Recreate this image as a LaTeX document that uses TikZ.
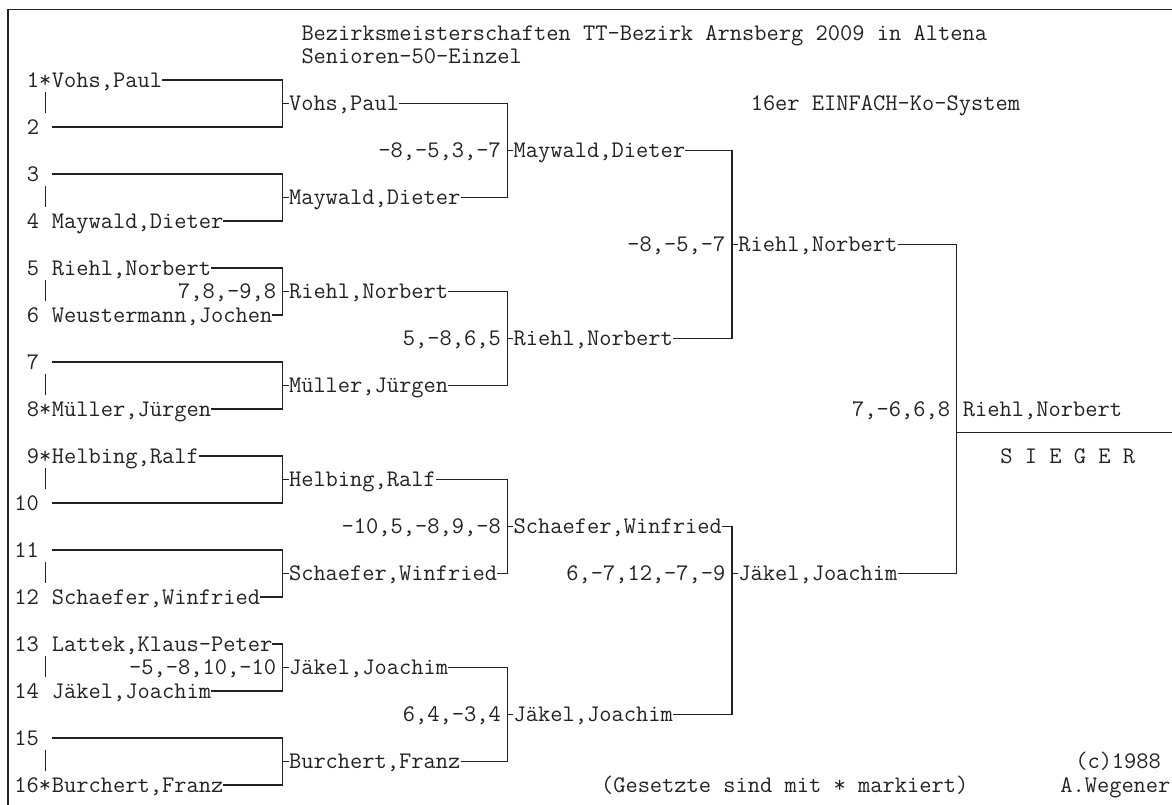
\documentclass[tikz,border=0pt]{standalone}
\usepackage{fontspec}
\definecolor{ink}{HTML}{222222}
\begin{document}
\begin{tikzpicture}[x=12.48pt,y=-23.5pt,
  txt/.style={inner sep=0pt, text height=14.4pt, text depth=0pt, text=ink,
              font=\ttfamily\fontsize{23.77pt}{23.5pt}\selectfont},
  nm/.style={txt, anchor=west},
  sc/.style={txt, anchor=east},
  ln/.style={draw=ink, line width=1.3pt},
  pipe/.style={draw=ink, line width=1pt}]
\useasboundingbox (-1.6426,-3.4043) rectangle (92.2676,30.8511);
% frame
\coordinate (tl) at (-1,-3);
\coordinate (tr) at (92.2676,-3);
\coordinate (bl) at (-1,30.8511);
\draw[ln] (tr) -- (tl) -- (bl);
% titles
\node[nm] (t1) at (22.5,-2) {Bezirksmeisterschaften TT-Bezirk Arnsberg 2009 in Altena};
\node[nm] (t2) at (22.5,-1) {Senioren-50-Einzel};
\node[nm] (t3) at (58.5,1) {16er EINFACH-Ko-System};
\node[nm] (t4) at (84.5,29) {(c)1988};
\node[nm] (t5) at (46.5,30) {(Gesetzte sind mit * markiert)};
\node[nm] (t6) at (83.3,30) {A.Wegener};
% round 1
\node[nm] (s1) at (0.5,0) {1*};   \node[nm] (p1) at (2.5,0) {Vohs,Paul};
\node[nm] (s2) at (0.5,2) {2};    \coordinate (p2) at (2.5,2);
\node[nm] (s3) at (0.5,4) {3};    \coordinate (p3) at (2.5,4);
\node[nm] (s4) at (0.5,6) {4};    \node[nm] (p4) at (2.5,6) {Maywald,Dieter};
\node[nm] (s5) at (0.5,8) {5};    \node[nm] (p5) at (2.5,8) {Riehl,Norbert};
\node[nm] (s6) at (0.5,10) {6};   \node[nm] (p6) at (2.5,10) {Weustermann,Jochen};
\node[nm] (s7) at (0.5,12) {7};   \coordinate (p7) at (2.5,12);
\node[nm] (s8) at (0.5,14) {8*};  \node[nm] (p8) at (2.5,14) {Müller,Jürgen};
\node[nm] (s9) at (0.5,16) {9*};  \node[nm] (p9) at (2.5,16) {Helbing,Ralf};
\node[nm] (s10) at (-0.5,18) {10}; \coordinate (p10) at (2.5,18);
\node[nm] (s11) at (-0.5,20) {11}; \coordinate (p11) at (2.5,20);
\node[nm] (s12) at (-0.5,22) {12}; \node[nm] (p12) at (2.5,22) {Schaefer,Winfried};
\node[nm] (s13) at (-0.5,24) {13}; \node[nm] (p13) at (2.5,24) {Lattek,Klaus-Peter};
\node[nm] (s14) at (-0.5,26) {14}; \node[nm] (p14) at (2.5,26) {Jäkel,Joachim};
\node[nm] (s15) at (-0.5,28) {15}; \coordinate (p15) at (2.5,28);
\node[nm] (s16) at (-0.5,30) {16*}; \node[nm] (p16) at (2.5,30) {Burchert,Franz};
\foreach \r in {1,5,...,29} \draw[pipe] (2,\r-0.49) -- (2,\r+0.4);
% round 2
\foreach \k/\r in {1/1,2/5,3/9,4/13,5/17,6/21,7/25,8/29} \coordinate (j\k) at (21,\r);
\node[nm] (w1) at (21.5,1)  {Vohs,Paul};
\node[nm] (w2) at (21.5,5)  {Maywald,Dieter};
\node[nm] (w3) at (21.5,9)  {Riehl,Norbert};
\node[nm] (w4) at (21.5,13) {Müller,Jürgen};
\node[nm] (w5) at (21.5,17) {Helbing,Ralf};
\node[nm] (w6) at (21.5,21) {Schaefer,Winfried};
\node[nm] (w7) at (21.5,25) {Jäkel,Joachim};
\node[nm] (w8) at (21.5,29) {Burchert,Franz};
\node[sc] (r3) at (20.5,9)  {7,8,-9,8};
\node[sc] (r7) at (20.5,25) {-5,-8,10,-10};
\draw[ln] (p1.east) -| (j1) |- (p2);
\draw[ln] (p3) -| (j2) |- (p4.east);
\draw[ln] (p5.east) -| (j3) |- (p6.east);
\draw[ln] (p7) -| (j4) |- (p8.east);
\draw[ln] (p9.east) -| (j5) |- (p10);
\draw[ln] (p11) -| (j6) |- (p12.east);
\draw[ln] (p13.east) -| (j7) |- (p14.east);
\draw[ln] (p15) -| (j8) |- (p16.east);
\foreach \k in {1,...,8} \draw[ln] (j\k) -- (w\k.west);
% round 3
\foreach \k/\r in {1/3,2/11,3/19,4/27} \coordinate (k\k) at (39,\r);
\node[nm] (v1) at (39.5,3)  {Maywald,Dieter};
\node[nm] (v2) at (39.5,11) {Riehl,Norbert};
\node[nm] (v3) at (39.5,19) {Schaefer,Winfried};
\node[nm] (v4) at (39.5,27) {Jäkel,Joachim};
\node[sc] (q1) at (38.5,3)  {-8,-5,3,-7};
\node[sc] (q2) at (38.5,11) {5,-8,6,5};
\node[sc] (q3) at (38.5,19) {-10,5,-8,9,-8};
\node[sc] (q4) at (38.5,27) {6,4,-3,4};
\draw[ln] (w1.east) -| (k1) |- (w2.east);
\draw[ln] (w3.east) -| (k2) |- (w4.east);
\draw[ln] (w5.east) -| (k3) |- (w6.east);
\draw[ln] (w7.east) -| (k4) |- (w8.east);
\foreach \k in {1,...,4} \draw[ln] (k\k) -- (v\k.west);
% round 4
\coordinate (m1) at (57,7);
\coordinate (m2) at (57,21);
\node[nm] (u1) at (57.5,7)  {Riehl,Norbert};
\node[nm] (u2) at (57.5,21) {Jäkel,Joachim};
\node[sc] (o1) at (56.5,7)  {-8,-5,-7};
\node[sc] (o2) at (56.5,21) {6,-7,12,-7,-9};
\draw[ln] (v1.east) -| (m1) |- (v2.east);
\draw[ln] (v3.east) -| (m2) |- (v4.east);
\draw[ln] (m1) -- (u1.west);
\draw[ln] (m2) -- (u2.west);
% final
\coordinate (f) at (75,15);
\coordinate (fe) at (92.2676,15);
\draw[ln] (u1.east) -| (f) |- (u2.east);
\draw[ln] (f) -- (fe);
\node[nm] (win) at (75.5,14) {Riehl,Norbert};
\node[sc] (fs) at (74.5,14) {7,-6,6,8};
\node[nm] (sg) at (78.5,16) {S I E G E R};
\end{tikzpicture}
\end{document}
